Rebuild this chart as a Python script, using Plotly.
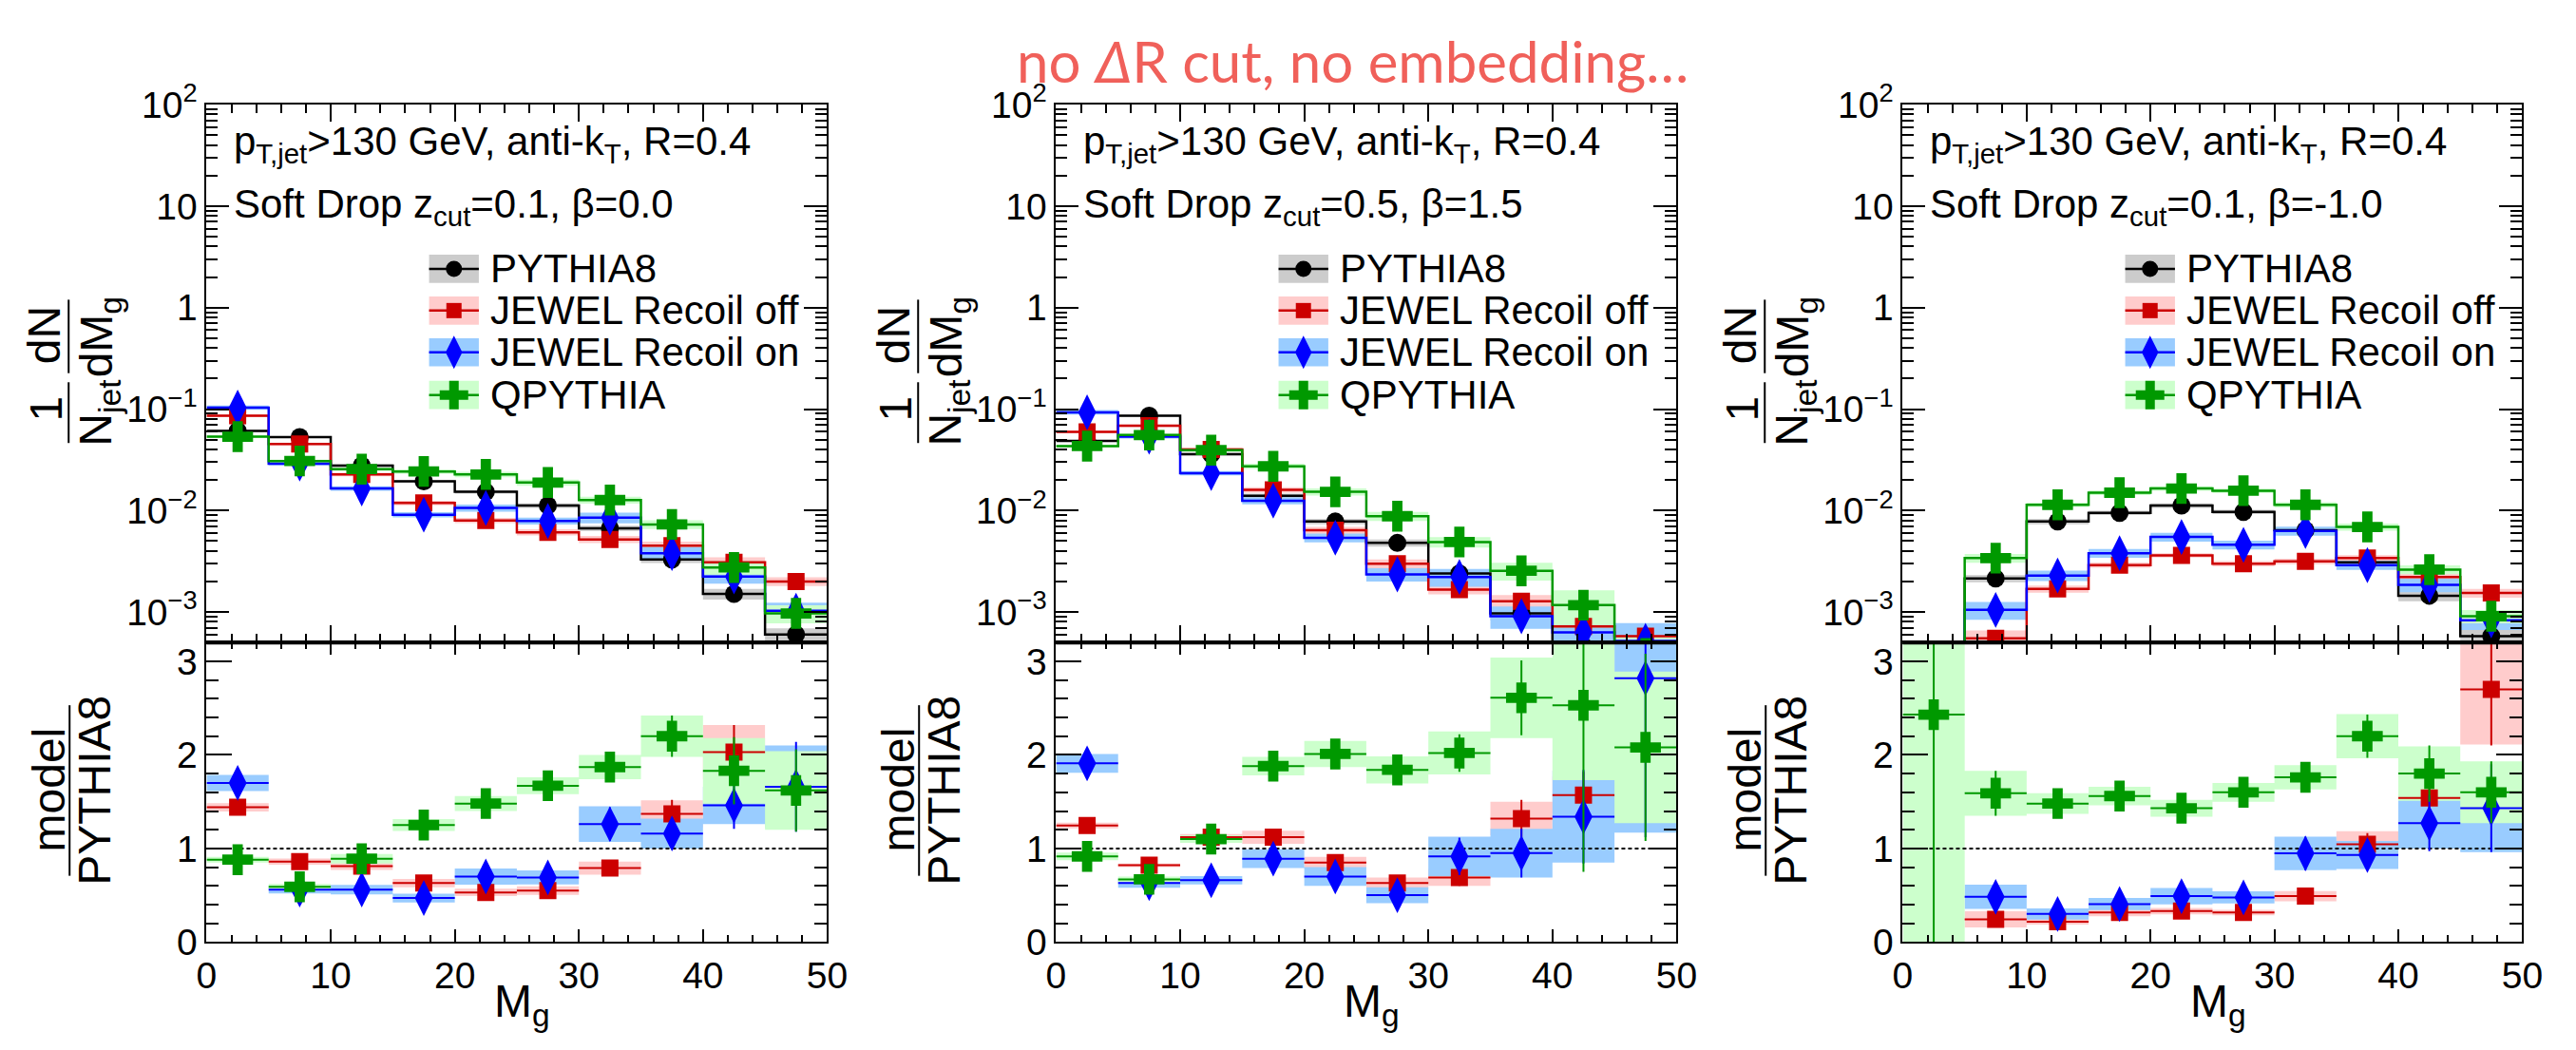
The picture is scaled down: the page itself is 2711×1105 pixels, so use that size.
import math
import plotly.graph_objects as go

W, H = 2711, 1105

# ---------------- data ----------------
bin_edges = [0, 5, 10, 15, 20, 25, 30, 35, 40, 45, 50]
bin_centers = [2.5, 7.5, 12.5, 17.5, 22.5, 27.5, 32.5, 37.5, 42.5, 47.5]
x_tick_vals = [0, 10, 20, 30, 40, 50]
y_top_tickvals = [1e-3, 1e-2, 1e-1, 1, 10, 100]
y_top_ticktext = ["10<sup>−3</sup>", "10<sup>−2</sup>", "10<sup>−1</sup>", "1", "10", "10<sup>2</sup>"]
y_ratio_tickvals = [0, 1, 2, 3]

model_names = ["PYTHIA8", "JEWEL Recoil off", "JEWEL Recoil on", "QPYTHIA"]

header_line1 = "p<sub>T,jet</sub>>130 GeV, anti-k<sub>T</sub>, R=0.4"
header_line2 = ["Soft Drop z<sub>cut</sub>=0.1, β=0.0",
                "Soft Drop z<sub>cut</sub>=0.5, β=1.5",
                "Soft Drop z<sub>cut</sub>=0.1, β=-1.0"]
title_text = "no <i>Δ</i>R cut, no embedding…"

# panel 1 : zcut=0.1, beta=0.0  (1/Njet dN/dMg)
p1_pythia = [0.061, 0.053, 0.0278, 0.0194, 0.0153, 0.0112, 0.0067, 0.0033, 0.00151, 0.00060]
p1_recoff = [0.086, 0.0453, 0.0227, 0.0119, 0.0080, 0.0061, 0.0052, 0.0045, 0.0031, 0.0020]
p1_recon = [0.1035, 0.029, 0.0165, 0.0091, 0.0106, 0.0079, 0.0085, 0.0038, 0.00224, 0.00103]
p1_qpythia = [0.0535, 0.0308, 0.0256, 0.0243, 0.0227, 0.0189, 0.0127, 0.0073, 0.00275, 0.00097]
p1_pythia_band = [0.02, 0.02, 0.03, 0.03, 0.04, 0.05, 0.06, 0.08, 0.12, 0.15]
p1_recoff_band = [0.03, 0.03, 0.04, 0.05, 0.06, 0.07, 0.08, 0.10, 0.12, 0.10]
p1_recon_band = [0.05, 0.04, 0.05, 0.06, 0.08, 0.08, 0.12, 0.15, 0.15, 0.20]
p1_qpythia_band = [0.03, 0.03, 0.04, 0.05, 0.06, 0.07, 0.08, 0.10, 0.15, 0.20]

# panel 2 : zcut=0.5, beta=1.5
p2_pythia = [0.0487, 0.086, 0.036, 0.014, 0.0078, 0.0048, 0.0024, 0.00097, 0.00046, 0.000185]
p2_recoff = [0.0597, 0.0686, 0.040, 0.016, 0.0064, 0.0030, 0.00166, 0.00128, 0.00072, 0.00058]
p2_recon = [0.093, 0.0535, 0.0234, 0.0125, 0.0054, 0.00235, 0.00222, 0.00091, 0.00063, 0.00052]
p2_qpythia = [0.0432, 0.0555, 0.0394, 0.0273, 0.0153, 0.0088, 0.0049, 0.00255, 0.00117, 0.00039]
p2_pythia_band = [0.02, 0.02, 0.03, 0.05, 0.06, 0.08, 0.10, 0.15, 0.20, 0.30]
p2_recoff_band = [0.03, 0.03, 0.04, 0.06, 0.08, 0.10, 0.10, 0.15, 0.15, 0.20]
p2_recon_band = [0.05, 0.04, 0.05, 0.08, 0.10, 0.15, 0.20, 0.25, 0.40, 0.50]
p2_qpythia_band = [0.03, 0.03, 0.04, 0.06, 0.08, 0.10, 0.12, 0.20, 0.40, 0.50]

# panel 3 : zcut=0.1, beta=-1.0
p3_pythia = [1.2e-5, 0.00214, 0.0078, 0.0095, 0.0112, 0.0097, 0.0064, 0.0031, 0.00145, 0.00058]
p3_recoff = [None, 0.00055, 0.00169, 0.0029, 0.00362, 0.0030, 0.00316, 0.0034, 0.00222, 0.00154]
p3_recon = [None, 0.00105, 0.00229, 0.0038, 0.0055, 0.0046, 0.0063, 0.0029, 0.00185, 0.00083]
p3_qpythia = [2.9e-5, 0.0034, 0.0114, 0.0150, 0.0165, 0.0157, 0.0114, 0.0069, 0.00262, 0.00091]
p3_pythia_band = [0.30, 0.08, 0.06, 0.05, 0.05, 0.05, 0.06, 0.08, 0.12, 0.15]
p3_recoff_band = [0.30, 0.20, 0.08, 0.06, 0.05, 0.06, 0.06, 0.07, 0.10, 0.10]
p3_recon_band = [0.30, 0.20, 0.12, 0.10, 0.10, 0.10, 0.10, 0.10, 0.15, 0.20]
p3_qpythia_band = [0.50, 0.10, 0.05, 0.05, 0.05, 0.05, 0.06, 0.08, 0.10, 0.15]

# ratios model / PYTHIA8
r1_recoff = [1.44, 0.86, 0.81, 0.63, 0.53, 0.55, 0.79, 1.37, 2.03, None]
r1_recon = [1.70, 0.56, 0.56, 0.47, 0.70, 0.69, 1.26, 1.16, 1.46, 1.66]
r1_qpythia = [0.88, 0.59, 0.89, 1.25, 1.48, 1.67, 1.87, 2.20, 1.83, 1.62]
r1_recoff_sys = [0.044, 0.033, 0.04, 0.045, 0.04, 0.045, 0.07, 0.145, 0.29, 0]
r1_recon_sys = [0.086, 0.04, 0.05, 0.047, 0.086, 0.075, 0.19, 0.16, 0.20, 0.44]
r1_qpythia_sys = [0.03, 0.03, 0.05, 0.063, 0.08, 0.09, 0.13, 0.22, 0.35, 0.42]
r1_recoff_stat = [0.03, 0.03, 0.04, 0.04, 0.04, 0.04, 0.06, 0.15, 0.29, 0]
r1_recon_stat = [0.06, 0.04, 0.05, 0.05, 0.08, 0.07, 0.18, 0.17, 0.25, 0.48]
r1_qpythia_stat = [0.04, 0.03, 0.05, 0.06, 0.07, 0.08, 0.12, 0.22, 0.36, 0.44]

r2_recoff = [1.245, 0.82, 1.12, 1.12, 0.85, 0.63, 0.69, 1.32, 1.57, None]
r2_recon = [1.91, 0.63, 0.66, 0.89, 0.70, 0.50, 0.915, 0.95, 1.34, 2.82]
r2_qpythia = [0.915, 0.67, 1.10, 1.88, 2.01, 1.84, 2.02, 2.61, 2.53, 2.08]
r2_recoff_sys = [0.03, 0.02, 0.035, 0.07, 0.06, 0.06, 0.09, 0.18, 0.20, 0]
r2_recon_sys = [0.10, 0.05, 0.045, 0.10, 0.10, 0.085, 0.21, 0.26, 0.49, 1.65]
r2_qpythia_sys = [0.04, 0.03, 0.04, 0.10, 0.14, 0.145, 0.23, 0.43, 0.80, 0.81]
r2_recoff_stat = [0.03, 0.02, 0.035, 0.05, 0.05, 0.06, 0.09, 0.20, 0.25, 0]
r2_recon_stat = [0.06, 0.05, 0.045, 0.08, 0.09, 0.08, 0.20, 0.26, 0.50, 1.70]
r2_qpythia_stat = [0.05, 0.03, 0.05, 0.09, 0.13, 0.14, 0.20, 0.40, 1.78, 1.00]

r3_recoff = [None, 0.243, 0.217, 0.315, 0.33, 0.315, 0.49, 1.045, 1.54, 2.70]
r3_recon = [None, 0.483, 0.30, 0.405, 0.49, 0.477, 0.947, 0.93, 1.27, 1.43]
r3_qpythia = [2.43, 1.59, 1.48, 1.56, 1.43, 1.60, 1.76, 2.20, 1.80, 1.60]
r3_recoff_sys = [0, 0.086, 0.03, 0.04, 0.035, 0.03, 0.055, 0.14, 0.20, 0.59]
r3_recon_sys = [0, 0.13, 0.06, 0.065, 0.087, 0.065, 0.18, 0.15, 0.27, 0.47]
r3_qpythia_sys = [2.6, 0.24, 0.11, 0.10, 0.09, 0.10, 0.13, 0.235, 0.29, 0.33]
r3_recoff_stat = [0, 0.08, 0.03, 0.04, 0.03, 0.03, 0.05, 0.12, 0.20, 0.60]
r3_recon_stat = [0, 0.10, 0.06, 0.07, 0.08, 0.06, 0.18, 0.15, 0.30, 0.47]
r3_qpythia_stat = [2.6, 0.24, 0.10, 0.10, 0.09, 0.10, 0.12, 0.23, 0.30, 0.33]

# ---------------- styles ----------------
line_colors = ["#000000", "#cc0000", "#0000ff", "#009900"]
band_colors = ["#cccccc", "#ffcccc", "#99ccff", "#ccffcc"]
marker_symbols = ["circle", "square", "diamond-tall", "cross"]
marker_sizes = [19, 18, 27, 27]
FONT = "Liberation Sans, Arial, Helvetica, sans-serif"
TICK_FONT = 39
TEXT_FONT = 42
TITLE_FONT = 48

panel_left = [209, 1114, 2016]
panel_right = [870, 1775, 2676]
top_y0, split_y, bottom_y1 = 86, 679, 1009

panels_top = [
    ([p1_pythia, p1_recoff, p1_recon, p1_qpythia], [p1_pythia_band, p1_recoff_band, p1_recon_band, p1_qpythia_band]),
    ([p2_pythia, p2_recoff, p2_recon, p2_qpythia], [p2_pythia_band, p2_recoff_band, p2_recon_band, p2_qpythia_band]),
    ([p3_pythia, p3_recoff, p3_recon, p3_qpythia], [p3_pythia_band, p3_recoff_band, p3_recon_band, p3_qpythia_band]),
]
panels_ratio = [
    ([r1_recoff, r1_recon, r1_qpythia], [r1_recoff_sys, r1_recon_sys, r1_qpythia_sys], [r1_recoff_stat, r1_recon_stat, r1_qpythia_stat]),
    ([r2_recoff, r2_recon, r2_qpythia], [r2_recoff_sys, r2_recon_sys, r2_qpythia_sys], [r2_recoff_stat, r2_recon_stat, r2_qpythia_stat]),
    ([r3_recoff, r3_recon, r3_qpythia], [r3_recoff_sys, r3_recon_sys, r3_qpythia_sys], [r3_recoff_stat, r3_recon_stat, r3_qpythia_stat]),
]


def px_x(px):
    return px / W


def px_y(py):
    return 1 - py / H


def ax_keys(n):
    return ("xaxis" if n == 1 else f"xaxis{n}", "yaxis" if n == 1 else f"yaxis{n}",
            "x" if n == 1 else f"x{n}", "y" if n == 1 else f"y{n}")


def band_polys(vals, errs, log):
    xs, ys = [], []
    for k, v in enumerate(vals):
        if v is None:
            continue
        e = errs[k]
        if log:
            lo, hi = v * (1 - e), v * (1 + e)
            lo = max(lo, 1e-9)
        else:
            lo, hi = v - e, v + e
        x0, x1 = bin_edges[k], bin_edges[k + 1]
        xs += [x0, x1, x1, x0, x0, None]
        ys += [lo, lo, hi, hi, lo, None]
    return xs, ys


fig = go.Figure()
layout = dict(width=W, height=H, margin=dict(l=0, r=0, t=0, b=0),
              paper_bgcolor="white", plot_bgcolor="rgba(0,0,0,0)",
              showlegend=False, hovermode=False,
              font=dict(family=FONT, size=TICK_FONT, color="black"))
annotations = []
shapes = []

log_lo = math.log10(5e-4)
minor_log_vals = [k * 10 ** e for e in range(-4, 2) for k in range(2, 10)
                  if log_lo < math.log10(k * 10 ** e) < 2]

for i in range(3):
    L, R = panel_left[i], panel_right[i]
    nt, nr = 2 * i + 1, 2 * i + 2
    xk_t, yk_t, xr_t, yr_t = ax_keys(nt)
    xk_r, yk_r, xr_r, yr_r = ax_keys(nr)
    common_axis = dict(showline=True, linecolor="black", linewidth=2, mirror="ticks",
                       ticks="inside", tickcolor="black", tickwidth=2, showgrid=False,
                       zeroline=False, fixedrange=True,
                       tickfont=dict(family=FONT, size=TICK_FONT, color="black"))
    layout[xk_t] = dict(common_axis, domain=[px_x(L), px_x(R)], range=[0, 50], anchor=yr_t,
                        tickmode="linear", tick0=0, dtick=10, ticklen=18, showticklabels=False,
                        minor=dict(ticks="inside", tickmode="linear", tick0=0, dtick=2, ticklen=9,
                                   tickwidth=2, tickcolor="black", showgrid=False))
    layout[yk_t] = dict(common_axis, domain=[px_y(split_y), px_y(top_y0)], type="log",
                        range=[log_lo, 2], anchor=xr_t, tickmode="array",
                        tickvals=y_top_tickvals, ticktext=y_top_ticktext, ticklen=24,
                        minor=dict(ticks="inside", tickmode="array", tickvals=minor_log_vals,
                                   ticklen=12, tickwidth=2, tickcolor="black", showgrid=False))
    layout[xk_r] = dict(common_axis, domain=[px_x(L), px_x(R)], range=[0, 50], anchor=yr_r,
                        tickmode="array", tickvals=x_tick_vals, ticklen=13,
                        minor=dict(ticks="inside", tickmode="linear", tick0=0, dtick=2, ticklen=7,
                                   tickwidth=2, tickcolor="black", showgrid=False))
    layout[yk_r] = dict(common_axis, domain=[px_y(bottom_y1), px_y(split_y)], range=[0, 3.2],
                        anchor=xr_r, tickmode="array", tickvals=y_ratio_tickvals, ticklen=27,
                        minor=dict(ticks="inside", tickmode="linear", tick0=0, dtick=0.2, ticklen=13,
                                   tickwidth=2, tickcolor="black", showgrid=False))

    # ---------- top panel ----------
    vals_list, band_list = panels_top[i]
    for s in range(4):
        bx, by = band_polys(vals_list[s], band_list[s], True)
        fig.add_trace(go.Scatter(x=bx, y=by, xaxis=xr_t, yaxis=yr_t, mode="lines", fill="toself",
                                 fillcolor=band_colors[s], line=dict(width=0), hoverinfo="skip"))
    for s in range(4):
        v = [1e-9 if a is None else a for a in vals_list[s]]
        fig.add_trace(go.Scatter(x=bin_edges, y=v + [v[-1]], xaxis=xr_t, yaxis=yr_t, mode="lines",
                                 line=dict(color=line_colors[s], width=2.5, shape="hv"), hoverinfo="skip"))
    for s in range(4):
        xs = [c for c, a in zip(bin_centers, vals_list[s]) if a is not None]
        ys = [a for a in vals_list[s] if a is not None]
        fig.add_trace(go.Scatter(x=xs, y=ys, xaxis=xr_t, yaxis=yr_t, mode="markers",
                                 marker=dict(symbol=marker_symbols[s], size=marker_sizes[s],
                                             color=line_colors[s], line=dict(width=0)),
                                 hoverinfo="skip"))

    # ---------- ratio panel ----------
    rvals, rsys, rstat = panels_ratio[i]
    for s in range(3):
        bx, by = band_polys(rvals[s], rsys[s], False)
        fig.add_trace(go.Scatter(x=bx, y=by, xaxis=xr_r, yaxis=yr_r, mode="lines", fill="toself",
                                 fillcolor=band_colors[s + 1], line=dict(width=0), hoverinfo="skip"))
    fig.add_trace(go.Scatter(x=[0, 50], y=[1, 1], xaxis=xr_r, yaxis=yr_r, mode="lines",
                             line=dict(color="black", width=2, dash="4px,3px"), hoverinfo="skip"))
    for s in range(3):
        idx = [k for k, a in enumerate(rvals[s]) if a is not None]
        fig.add_trace(go.Scatter(
            x=[bin_centers[k] for k in idx], y=[rvals[s][k] for k in idx],
            xaxis=xr_r, yaxis=yr_r, mode="markers",
            marker=dict(symbol=marker_symbols[s + 1], size=marker_sizes[s + 1],
                        color=line_colors[s + 1], line=dict(width=0)),
            error_x=dict(type="data", array=[2.5] * len(idx), width=0, thickness=2,
                         color=line_colors[s + 1]),
            error_y=dict(type="data", array=[rstat[s][k] for k in idx], width=0, thickness=2,
                         color=line_colors[s + 1]),
            hoverinfo="skip"))

    # thick boundary between the panels
    shapes.append(dict(type="line", xref="paper", yref="paper", x0=px_x(L), x1=px_x(R),
                       y0=px_y(split_y), y1=px_y(split_y), line=dict(color="black", width=4)))

    # ---------- texts ----------
    annotations.append(dict(text=header_line1, x=px_x(L + 27), y=px_y(129), xref="paper", yref="paper",
                            xanchor="left", yanchor="middle", showarrow=False,
                            font=dict(family=FONT, size=TEXT_FONT, color="black")))
    annotations.append(dict(text=header_line2[i], x=px_x(L + 27), y=px_y(198), xref="paper", yref="paper",
                            xanchor="left", yanchor="middle", showarrow=False,
                            font=dict(family=FONT, size=TEXT_FONT, color="black")))
    leg_y = [267, 313, 359, 406]
    for s in range(4):
        annotations.append(dict(text=model_names[s], x=px_x(L + 300), y=px_y(leg_y[s]),
                                xref="paper", yref="paper", xanchor="left", yanchor="middle",
                                showarrow=False, font=dict(family=FONT, size=TEXT_FONT, color="black")))

    off = L - 209
    rot = dict(xref="paper", yref="paper", xanchor="center", yanchor="middle", showarrow=False,
               textangle=-90, font=dict(family=FONT, size=TITLE_FONT, color="black"))
    annotations.append(dict(rot, text="1", x=px_x(38 + off), y=px_y(421)))
    annotations.append(dict(rot, text="N<sub>jet</sub>", x=px_x(94 + off), y=px_y(425)))
    annotations.append(dict(rot, text="dN", x=px_x(36 + off), y=px_y(340)))
    annotations.append(dict(rot, text="dM<sub>g</sub>", x=px_x(95 + off), y=px_y(342)))
    annotations.append(dict(rot, text="model", x=px_x(41 + off), y=px_y(841)))
    annotations.append(dict(rot, text="PYTHIA8", x=px_x(90 + off), y=px_y(842)))
    for (xx, ya, yb) in [(62, 301, 382), (62, 392, 459), (63, 748, 936)]:
        shapes.append(dict(type="line", xref="paper", yref="paper", x0=px_x(xx + off), x1=px_x(xx + off),
                           y0=px_y(ya), y1=px_y(yb), line=dict(color="black", width=2)))
    annotations.append(dict(text="M<sub>g</sub>", x=px_x((L + R) / 2 + 6), y=px_y(1078), xref="paper",
                            yref="paper", xanchor="center", yanchor="middle", showarrow=False,
                            font=dict(family=FONT, size=TITLE_FONT, color="black")))

# ---------- legend drawn on a pixel canvas ----------
layout["xaxis7"] = dict(domain=[0, 1], range=[0, W], visible=False, fixedrange=True, anchor="y7")
layout["yaxis7"] = dict(domain=[0, 1], range=[H, 0], visible=False, fixedrange=True, anchor="x7")
leg_y = [267, 313, 359, 406]
for i in range(3):
    L = panel_left[i]
    x0, x1 = L + 237, L + 290
    for s in range(4):
        cy = leg_y[s]
        fig.add_trace(go.Scatter(x=[x0, x1, x1, x0, x0], y=[cy - 15.5, cy - 15.5, cy + 15.5, cy + 15.5, cy - 15.5],
                                 xaxis="x7", yaxis="y7", mode="lines", fill="toself",
                                 fillcolor=band_colors[s], line=dict(width=0), hoverinfo="skip"))
        fig.add_trace(go.Scatter(x=[x0, x1], y=[cy, cy], xaxis="x7", yaxis="y7", mode="lines",
                                 line=dict(color=line_colors[s], width=2.5), hoverinfo="skip"))
        fig.add_trace(go.Scatter(x=[(x0 + x1) / 2], y=[cy], xaxis="x7", yaxis="y7", mode="markers",
                                 marker=dict(symbol=marker_symbols[s], size=marker_sizes[s] - 2,
                                             color=line_colors[s], line=dict(width=0)),
                                 hoverinfo="skip"))

annotations.append(dict(text=title_text, x=px_x(1430), y=px_y(38), xref="paper", yref="paper",
                        xanchor="center", yanchor="middle", showarrow=False,
                        font=dict(family="Lato, Open Sans, sans-serif", size=60, color="#f0605a")))

layout["annotations"] = annotations
layout["shapes"] = shapes
fig.update_layout(**layout)
fig.write_html("out.html")
